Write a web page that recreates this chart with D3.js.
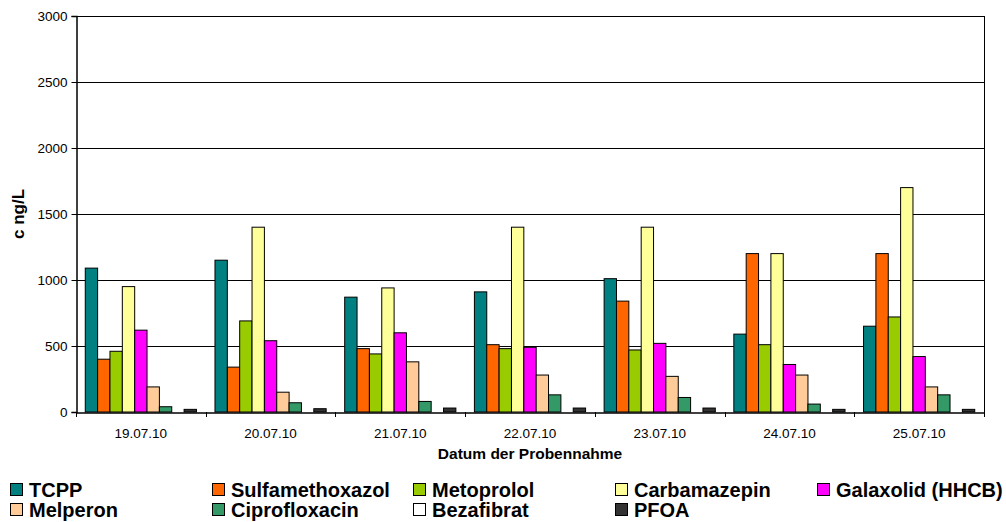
<!DOCTYPE html>
<html><head><meta charset="utf-8">
<script src="https://cdn.jsdelivr.net/npm/d3@7"></script>
<style>
html,body{margin:0;padding:0;background:#fff;}
svg{display:block;font-family:"Liberation Sans",Arial,Helvetica,sans-serif;}
</style></head>
<body><svg id="c" width="1006" height="522"></svg>
<script>
const categories = ["19.07.10","20.07.10","21.07.10","22.07.10","23.07.10","24.07.10","25.07.10"];
const seriesNames = ["TCPP","Sulfamethoxazol","Metoprolol","Carbamazepin","Galaxolid (HHCB)","Melperon","Ciprofloxacin","Bezafibrat","PFOA"];
const seriesColors = ["#008080","#FF6600","#99CC00","#FFFF99","#FF00FF","#FFCC99","#339966","#FFFFFF","#333333"];
const TCPP = [1090,1150,870,910,1010,590,650];
const Sulfamethoxazol = [400,340,480,510,840,1200,1200];
const Metoprolol = [460,690,440,480,470,510,720];
const Carbamazepin = [950,1400,940,1400,1400,1200,1700];
const Galaxolid = [620,540,600,490,520,360,420];
const Melperon = [190,150,380,280,270,280,190];
const Ciprofloxacin = [40,70,80,130,110,60,130];
const Bezafibrat = [0,0,0,0,0,0,0];
const PFOA = [20,25,30,30,30,20,20];
const yTicks = [0,500,1000,1500,2000,2500,3000];
const seriesValues = [TCPP,Sulfamethoxazol,Metoprolol,Carbamazepin,Galaxolid,Melperon,Ciprofloxacin,Bezafibrat,PFOA];

const svg = d3.select("#c");
const L = 76, R = 984, T = 16, B = 412;
const x = d3.scaleBand().domain(categories).range([L, R]).padding(0);
const xi = d3.scaleBand().domain(seriesNames).range([0, x.bandwidth()]).paddingInner(0).paddingOuter(0.75);
const y = d3.scaleLinear().domain([0, 3000]).range([B, T]);

// gridlines
svg.append("g").selectAll("line").data(yTicks.filter(d => d > 0)).join("line")
  .attr("x1", L).attr("x2", R).attr("y1", d => Math.round(y(d)) + 0.5).attr("y2", d => Math.round(y(d)) + 0.5)
  .attr("stroke", "#000").attr("stroke-width", 1);
// right border
svg.append("line").attr("x1", R + 0.5).attr("x2", R + 0.5).attr("y1", T).attr("y2", B).attr("stroke", "#000");

// bars
const rows = [];
categories.forEach((c, ci) => seriesNames.forEach((s, si) => rows.push({c, s, si, v: seriesValues[si][ci]})));
svg.append("g").selectAll("rect").data(rows.filter(d => d.v > 0)).join("rect")
  .attr("x", d => x(d.c) + xi(d.s))
  .attr("y", d => y(d.v))
  .attr("width", xi.bandwidth())
  .attr("height", d => y(0) - y(d.v))
  .attr("fill", d => seriesColors[d.si])
  .attr("stroke", "#000").attr("stroke-width", 1);

// y axis
const ya = svg.append("g").attr("transform", `translate(${L + 0.5},0)`)
  .call(d3.axisLeft(y).tickValues(yTicks).tickSize(5).tickPadding(4).tickFormat(d3.format("d")));
ya.select(".domain").attr("stroke", "#000").attr("stroke-width", 1.5);
ya.selectAll(".tick line").attr("stroke", "#000");
ya.selectAll("text").attr("font-size", "13.5px").attr("fill", "#000").attr("font-family", "Liberation Sans, Arial, sans-serif");

// x axis
const xa = svg.append("g").attr("transform", `translate(0,${B + 0.5})`)
  .call(d3.axisBottom(x).tickSize(0).tickPadding(16));
xa.select(".domain").attr("stroke", "#000").attr("stroke-width", 1.5);
xa.selectAll("text").attr("font-size", "13.5px").attr("fill", "#000").attr("font-family", "Liberation Sans, Arial, sans-serif");
svg.append("g").selectAll("line").data(categories.concat([null])).join("line")
  .attr("x1", (d, i) => Math.round(L + i * x.step()) + 0.5)
  .attr("x2", (d, i) => Math.round(L + i * x.step()) + 0.5)
  .attr("y1", B).attr("y2", B + 5).attr("stroke", "#000");

// axis titles
svg.append("text").attr("x", (L + R) / 2).attr("y", 459).attr("text-anchor", "middle")
  .attr("font-size", "15.5px").attr("font-weight", "bold").text("Datum der Probennahme");
svg.append("text").attr("transform", `translate(24,${(T + B) / 2}) rotate(-90)`).attr("text-anchor", "middle")
  .attr("font-size", "17px").attr("font-weight", "bold").text("c ng/L");

// legend
const colX = [10, 212, 413, 615, 817];
const rowY = [490, 510];
const lg = svg.append("g").selectAll("g").data(seriesNames).join("g")
  .attr("transform", (d, i) => `translate(${colX[i % 5]},${rowY[Math.floor(i / 5)]})`);
lg.append("rect").attr("x", 0.5).attr("y", -6.5).attr("width", 12).attr("height", 12)
  .attr("fill", (d, i) => seriesColors[i]).attr("stroke", "#000").attr("stroke-width", 1);
lg.append("text").attr("x", 19).attr("y", 7).attr("font-size", "20px").attr("font-weight", "bold").text(d => d);
</script>
</body></html>
